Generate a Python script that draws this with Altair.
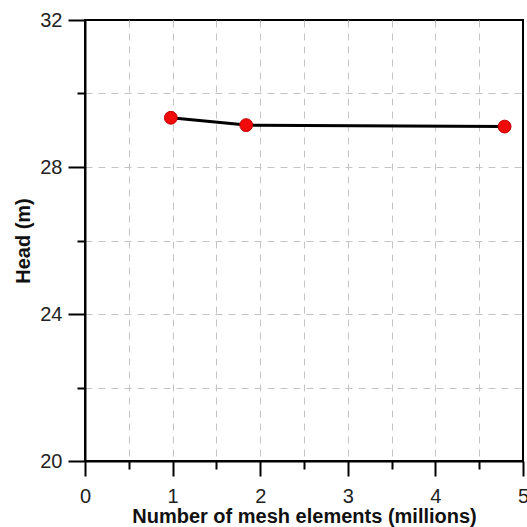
import altair as alt
import pandas as pd

# Mesh convergence: head at the observation point vs. mesh size
elements_millions = [0.98, 1.84, 4.79]
head_m = [29.34, 29.14, 29.10]

x_tick_values = [0, 0.5, 1, 1.5, 2, 2.5, 3, 3.5, 4, 4.5, 5]
y_tick_values = [20, 22, 24, 26, 28, 30, 32]

df = pd.DataFrame({"elements": elements_millions, "head": head_m})

FONT = "Liberation Sans"

x_axis = alt.Axis(
    values=x_tick_values,
    title="Number of mesh elements (millions)",
    labelExpr="datum.value % 1 === 0 ? format(datum.value, '.0f') : ''",
    tickSize={"condition": {"test": "datum.value % 1 === 0", "value": 15}, "value": 8},
    gridOpacity={"condition": {"test": "datum.value === 0 || datum.value === 5", "value": 0}, "value": 1},
    labelPadding=10,
    titlePadding=0,
)

y_axis = alt.Axis(
    values=y_tick_values,
    title="Head (m)",
    labelExpr="datum.value % 4 === 0 ? format(datum.value, '.0f') : ''",
    tickSize={"condition": {"test": "datum.value % 4 === 0", "value": 17}, "value": 8},
    gridOpacity={"condition": {"test": "datum.value === 20 || datum.value === 32", "value": 0}, "value": 1},
    labelPadding=6,
    titlePadding=6,
)

x_enc = alt.X("elements:Q", scale=alt.Scale(domain=[0, 5], nice=False, zero=False), axis=x_axis)
y_enc = alt.Y("head:Q", scale=alt.Scale(domain=[20, 32], nice=False, zero=False), axis=y_axis)

line = alt.Chart(df).mark_line(color="black", strokeWidth=3).encode(x=x_enc, y=y_enc)
points = alt.Chart(df).mark_circle(
    size=165, color="#f00a0a", opacity=1, stroke="#c00000", strokeWidth=1
).encode(x=x_enc, y=y_enc)

chart = (
    alt.layer(line, points)
    .properties(
        width=438,
        height=441,
        autosize=alt.AutoSizeParams(type="none"),
        padding={"left": 85, "top": 20, "right": 4, "bottom": 66},
    )
    .configure(background="white")
    .configure_view(stroke="black", strokeWidth=2)
    .configure_axis(
        domainColor="black",
        domainWidth=2,
        tickColor="black",
        tickWidth=2,
        grid=True,
        gridColor="#c4c4c4",
        gridDash=[7, 6],
        gridWidth=1,
        labelFont=FONT,
        labelFontSize=20,
        labelColor="#222222",
        titleFont=FONT,
        titleFontSize=20,
        titleFontWeight="bold",
        titleColor="#111111",
        labelFlush=False,
        labelOverlap=False,
    )
)

chart.save("out.html", embed_options={"renderer": "svg", "actions": False})
